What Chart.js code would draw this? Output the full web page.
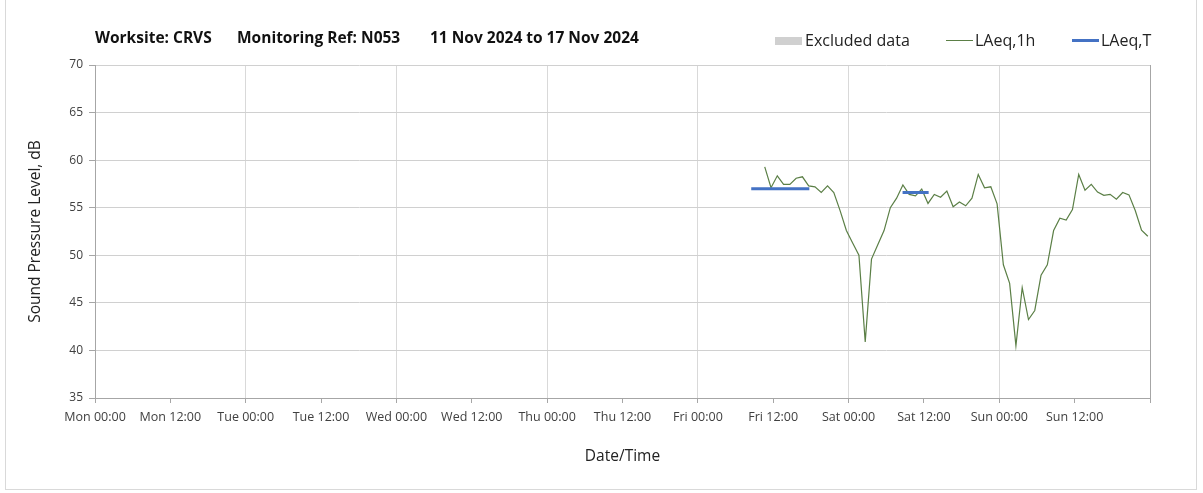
<!DOCTYPE html>
<html>
<head>
<meta charset="utf-8">
<script src="https://cdn.jsdelivr.net/npm/chart.js@4/dist/chart.umd.min.js"></script>
<style>
  body { margin: 0; background: #fff; font-family: 'Open Sans', sans-serif; }
  #wrap { position: relative; width: 1203px; height: 493px; }
  #frame { position: absolute; left: 5px; top: 0; width: 1192px; height: 490px; border: 1px solid #d9d9d9; border-top: none; box-sizing: border-box; }
  canvas { position: absolute; left: 0; top: 0; }
  .t { position: absolute; top: 26px; font-weight: bold; font-size: 15.5px; color: #111; white-space: nowrap; }
  .lg { position: absolute; top: 29px; font-size: 16px; color: #222; white-space: nowrap; }
  .sw { position: absolute; }
</style>
</head>
<body>
<div id="wrap">
  <div id="frame"></div>
  <canvas id="chart" width="1203" height="493"></canvas>
  <div class="t" style="left:95px">Worksite: CRVS</div>
  <div class="t" style="left:237px">Monitoring Ref: N053</div>
  <div class="t" style="left:430px">11 Nov 2024 to 17 Nov 2024</div>
  <div class="sw" style="left:775px;top:37px;width:27px;height:8px;background:#d0d0d0"></div>
  <div class="lg" style="left:805px">Excluded data</div>
  <div class="sw" style="left:946px;top:40px;width:27px;height:1px;background:#5b7f46"></div>
  <div class="lg" style="left:975px">LAeq,1h</div>
  <div class="sw" style="left:1072px;top:39px;width:27px;height:3px;background:#4472c4"></div>
  <div class="lg" style="left:1101px">LAeq,T</div>
</div>
<script>
// hours counted from Mon 00:00
const dayNames = ['Mon', 'Tue', 'Wed', 'Thu', 'Fri', 'Sat', 'Sun'];
const firstHour = 106.65; // Fri 10:39, then one value per hour
const laeq1h = [
  59.3, 57.1, 58.35, 57.45, 57.45, 58.1, 58.25, 57.3, 57.2, 56.6,
  57.3, 56.6, 54.7, 52.6, 51.3, 50.0, 40.9, 49.6, 51.1, 52.6,
  55.0, 56.0, 57.4, 56.4, 56.25, 56.95, 55.45, 56.4, 56.1, 56.75,
  55.1, 55.6, 55.2, 56.0, 58.5, 57.1, 57.2, 55.4, 49.0, 47.05,
  40.5, 46.6, 43.25, 44.2, 47.9, 49.0, 52.6, 53.9, 53.7, 54.8,
  58.5, 56.85, 57.45, 56.65, 56.3, 56.4, 55.9, 56.6, 56.35, 54.7,
  52.65, 52.0
];
const periodStart = [104.5, 128.6];
const periodEnd = [113.75, 132.75];
const laeqT = [57.0, 56.6];

const hourlyPoints = laeq1h.map((v, i) => ({ x: firstHour + i, y: v }));
const periodPoints = [];
laeqT.forEach((v, i) => {
  periodPoints.push({ x: periodStart[i], y: v });
  periodPoints.push({ x: periodEnd[i], y: v });
  periodPoints.push({ x: periodEnd[i] + 0.5, y: null });
});

const tickFont = { family: 'Open Sans', size: 12.5 };

new Chart(document.getElementById('chart').getContext('2d'), {
  type: 'line',
  data: {
    datasets: [{
      label: 'LAeq,T',
      data: periodPoints,
      borderColor: '#4472c4',
      borderWidth: 3,
      pointRadius: 0,
      spanGaps: false
    }, {
      label: 'LAeq,1h',
      data: hourlyPoints,
      borderColor: '#5b7f46',
      borderWidth: 1.2,
      pointRadius: 0,
      tension: 0
    }]
  },
  options: {
    responsive: false,
    animation: false,
    layout: { padding: { left: 0, top: 65, right: 53, bottom: 0 } },
    plugins: {
      legend: { display: false },
      tooltip: { enabled: false }
    },
    scales: {
      x: {
        type: 'linear',
        min: 0,
        max: 168,
        afterFit: function(scale) { scale.height = 95; },
        ticks: {
          stepSize: 12,
          autoSkip: false,
          maxRotation: 0,
          padding: 7,
          color: '#404040',
          font: tickFont,
          callback: function(v) {
            if (v >= 168) return '';
            return dayNames[Math.floor(v / 24)] + (v % 24 === 0 ? ' 00:00' : ' 12:00');
          }
        },
        grid: {
          color: function(c) {
            if (c.tick.value >= 168) return '#a6a6a6';
            return c.tick.value % 24 === 0 ? '#d9d9d9' : 'rgba(0,0,0,0)';
          },
          tickColor: '#a6a6a6',
          tickLength: 5
        },
        border: { color: '#a6a6a6' },
        title: {
          display: true,
          text: 'Date/Time',
          color: '#222',
          font: { family: 'Open Sans', size: 15.5 },
          padding: { top: 0, bottom: 27 }
        }
      },
      y: {
        min: 35,
        max: 70,
        afterFit: function(scale) { scale.width = 95; },
        ticks: {
          stepSize: 5,
          padding: 6,
          color: '#404040',
          font: { family: 'Open Sans', size: 12 }
        },
        grid: {
          color: '#d0d0d0',
          tickColor: '#a6a6a6',
          tickLength: 6
        },
        border: { color: '#a6a6a6' },
        title: {
          display: true,
          text: 'Sound Pressure Level, dB',
          color: '#222',
          font: { family: 'Open Sans', size: 15.5 },
          padding: { top: 26, bottom: 0 }
        }
      }
    }
  }
});
</script>
</body>
</html>
